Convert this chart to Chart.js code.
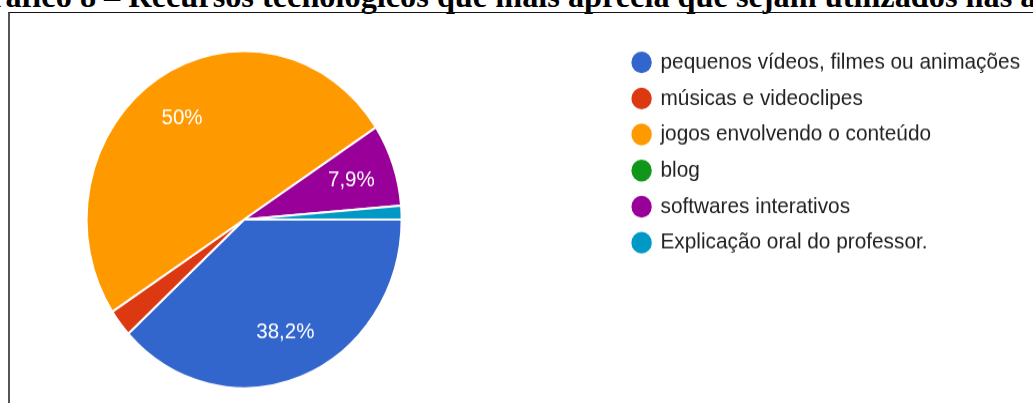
<!DOCTYPE html>
<html lang="pt-BR">
<head>
<meta charset="utf-8">
<title>Gráfico 8</title>
<script src="https://cdn.jsdelivr.net/npm/chart.js@4.4.1/dist/chart.umd.min.js"></script>
<style>
  html, body {
    margin: 0;
    padding: 0;
    width: 1033px;
    height: 403px;
    overflow: hidden;
    background: #fff;
  }
  #caption {
    position: absolute;
    left: -34px;
    top: -20px;
    font: bold 32.3px "Liberation Serif", "Times New Roman", serif;
    line-height: 32px;
    color: #000;
    white-space: nowrap;
  }
  #frame {
    position: absolute;
    left: 8px;
    top: 12px;
    width: 1100px;
    height: 500px;
    border-left: 2px solid #555;
    border-top: 1px solid #111;
    z-index: 2;
    pointer-events: none;
  }
  /* the chart image is a little taller than it is wide */
  #stretch {
    position: absolute;
    left: -131.6px;
    top: 13px;
    transform: scaleY(1.07);
    transform-origin: 0 0;
  }
</style>
</head>
<body>
<div id="caption">Gráfico 8 – Recursos tecnológicos que mais aprecia que sejam utilizados nas aulas</div>
<div id="frame"></div>
<div id="stretch"><canvas id="pieChart" width="1200" height="365"></canvas></div>
<script>
const categories = [
  "pequenos vídeos, filmes ou animações",
  "músicas e videoclipes",
  "jogos envolvendo o conteúdo",
  "blog",
  "softwares interativos",
  "Explicação oral do professor.",
];
const responses = [29, 2, 38, 0, 6, 1];
const sliceColors = ["#3366cc", "#dc3912", "#ff9900", "#109618", "#990099", "#0099c6"];

const FONT = '"Liberation Sans", Arial, sans-serif';
const LEGEND_LEFT = 752.2; // where the legend box should start on the canvas

function formatPct(value) {
  return (Math.round(value * 10) / 10).toString().replace(".", ",") + "%";
}

// white percentage text inside the bigger slices
const percentLabels = {
  id: "percentLabels",
  afterDatasetsDraw(chart) {
    const ctx = chart.ctx;
    const meta = chart.getDatasetMeta(0);
    const total = responses.reduce((a, b) => a + b, 0);
    ctx.save();
    ctx.font = "20.5px " + FONT;
    ctx.fillStyle = "#fff";
    ctx.textAlign = "center";
    ctx.textBaseline = "middle";
    meta.data.forEach(function (arc, i) {
      const pct = (responses[i] / total) * 100;
      if (pct < 5) return;
      const p = arc.getProps(["x", "y", "startAngle", "endAngle", "outerRadius"], true);
      const mid = (p.startAngle + p.endAngle) / 2;
      const r = p.outerRadius * 0.72;
      ctx.fillText(formatPct(pct), p.x + Math.cos(mid) * r, p.y + Math.sin(mid) * r);
    });
    ctx.restore();
  },
};

const ctx = document.getElementById("pieChart").getContext("2d");
const pieChart = new Chart(ctx, {
  type: "pie",
  data: {
    labels: categories,
    datasets: [
      {
        data: responses,
        backgroundColor: sliceColors,
        borderColor: "#fff",
        borderWidth: 2,
      },
    ],
  },
  options: {
    responsive: false,
    animation: false,
    devicePixelRatio: 1,
    events: [],
    rotation: 90,
    layout: {
      padding: { left: 0, right: 0, top: 22.85, bottom: 13.5 },
    },
    plugins: {
      tooltip: { enabled: false },
      // empty spacer so the pie sits lower than the legend
      title: {
        display: true,
        text: "",
        font: { size: 10, lineHeight: 1 },
        padding: { top: 1.65, bottom: 0 },
      },
      legend: {
        position: "right",
        align: "start",
        labels: {
          usePointStyle: true,
          pointStyle: "circle",
          boxWidth: 17,
          boxHeight: 14.4,
          padding: 12.9,
          color: "#222",
          font: { family: FONT, size: 20.8 },
          generateLabels: function (chart) {
            const items = Chart.overrides.pie.plugins.legend.labels.generateLabels(chart);
            return items.map(function (item) {
              item.lineWidth = 0;
              return item;
            });
          },
        },
      },
    },
  },
  plugins: [percentLabels],
});

// push the legend to its spot by padding the right side
pieChart.options.layout.padding.right = pieChart.width - LEGEND_LEFT - pieChart.legend.width;
pieChart.update();
</script>
</body>
</html>
